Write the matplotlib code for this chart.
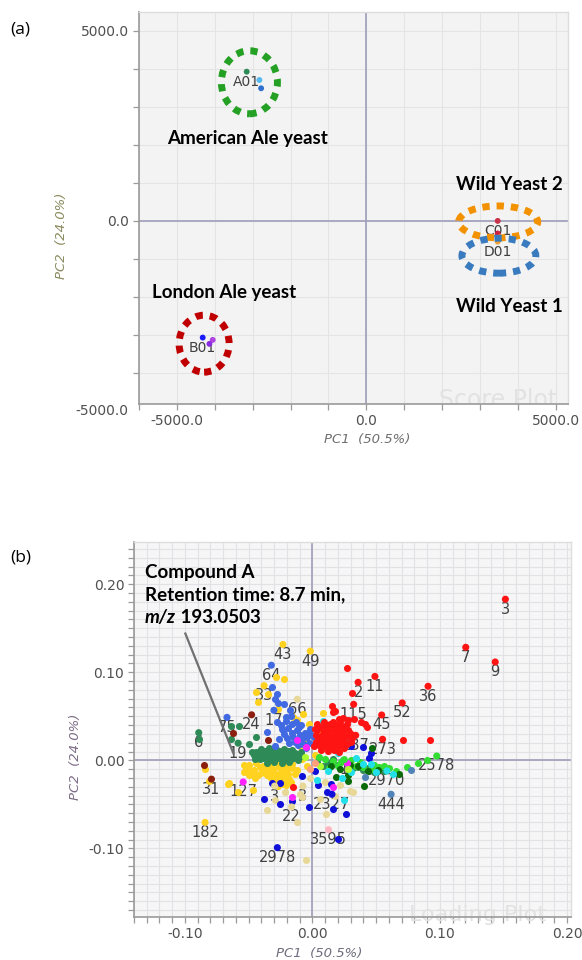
import matplotlib
matplotlib.use("Agg")
import matplotlib.pyplot as plt
from matplotlib.patches import Ellipse
from matplotlib.ticker import MultipleLocator, FixedLocator, FormatStrFormatter

# ---------------------------------------------------------------- data (a)
score_ids = ["A01", "", "", "B01", "", "", "C01", "", "", "D01"]
score_x = [-3158, -2823, -2778, -4319, -4055, -4142, 3465, 3465, 3509, 3465]
score_y = [3929, 3710, 3492, -3071, -3132, -3237, 0, -330, -474, -545]
score_col = ["#2e8b57", "#55b8ee", "#2f6fcf", "#1a1aff", "#b044e0", "#8a2be2",
             "#c8334a", "#d02040", "#66cc33", "#f0a030"]

group_names = ["American Ale yeast", "London Ale yeast", "Wild Yeast 2", "Wild Yeast 1"]
group_text_x = [-3132, -3747, 3773, 3773]
group_text_y = [2176, -1887, 947, -2255]
ring_x = [-3087, -4282, 3478, 3496]
ring_y = [3650, -3232, -26, -916]
ring_w = [1480, 1320, 2085, 1950]
ring_h = [1660, 1500, 840, 920]
ring_col = ["#24a024", "#c00000", "#f39200", "#3a7bbf"]

# ---------------------------------------------------------------- data (b)
lab_ids = ["3", "7", "9", "36", "52", "11", "2", "45", "115", "273", "237",
           "2578", "2970", "444", "2327", "3595", "2978", "22", "182", "31",
           "127", "3", "3", "6", "19", "75", "24", "17", "66", "33", "64",
           "43", "49", "1"]
lab_x = [0.1515, 0.1204, 0.1435, 0.0908, 0.0705, 0.0491, 0.0359, 0.0544,
         0.0324, 0.0551, 0.0340, 0.0976, 0.0585, 0.0618, 0.0154, 0.0127,
         -0.0275, -0.0163, -0.0842, -0.0792, -0.0543, -0.0296, -0.0074,
         -0.0892, -0.0583, -0.0670, -0.0477, -0.0302, -0.0118, -0.0379,
         -0.0322, -0.0231, -0.0016, 0.0251]
lab_y = [0.1830, 0.1284, 0.1117, 0.0841, 0.0652, 0.0953, 0.0886, 0.0515,
         0.0636, 0.0239, 0.0284, 0.0049, -0.0120, -0.0386, -0.0386, -0.0788,
         -0.0992, -0.0530, -0.0705, -0.0214, -0.0246, -0.0292, -0.0292,
         0.0314, 0.0195, 0.0488, 0.0517, 0.0568, 0.0693, 0.0848, 0.1080,
         0.1316, 0.1240, 0.0008]
lab_col = ["#ff1414"] * 11 + ["#33dd33", "#22e0ea", "#5083b8", "#1010d8",
           "#ffb6c1", "#1010d8", "#e8d898", "#ffd21f", "#8b2010", "#ff22ff",
           "#e8d898", "#e8d898", "#2e8b57", "#2e8b57", "#4169e1", "#8b2010",
           "#4169e1", "#e8d898", "#ffd21f", "#4169e1", "#ffd21f", "#ffd21f",
           "#33dd33"]

khaki_x = [-0.005, -0.0124, -0.036, -0.0294, -0.0215, -0.0084, 0.0296, 0.0104,
           0.006, 0.018, -0.002, 0.010, -0.010, 0.022, 0.032, 0.004, -0.004]
khaki_y = [-0.113, -0.0701, -0.0561, -0.0455, -0.036, -0.0417, -0.0348, -0.0614,
           -0.044, -0.040, -0.020, -0.025, -0.038, -0.028, -0.036, 0.002, 0.030]

gold_x = [-0.022, -0.0286, -0.0446, -0.0425, -0.0346, -0.0273, -0.015, -0.0124,
          -0.0074, 0.0083, 0.003, -0.006, -0.010, 0.005, -0.003, -0.0845,
          -0.0814, -0.0654, -0.0583, -0.0465, -0.0533, -0.0503, -0.0666,
          -0.034, -0.028, -0.022, -0.016, -0.050, -0.044,
          -0.036, -0.031, -0.026, -0.021, -0.016, -0.012, -0.052, -0.046, -0.041,
          -0.034, -0.029, -0.024, -0.019, -0.014, -0.048, -0.043,
          -0.033, -0.028, -0.023, -0.018, -0.045,
          -0.030, -0.025, -0.020, -0.027, -0.021, -0.008, -0.004, 0.002,
          -0.039, -0.033, -0.025, -0.019, -0.037, -0.031, -0.026, -0.021,
          -0.036, -0.031, -0.040, -0.023, -0.017, -0.054, -0.050]
gold_y = [0.0928, 0.0947, 0.0777, 0.0663, 0.075, 0.0587, 0.0492, 0.0455,
          0.053, 0.0538, 0.0227, 0.024, 0.016, 0.035, 0.041, -0.0095,
          -0.0235, -0.0254, -0.036, -0.0341, -0.0057, -0.0095, -0.0265,
          -0.004, -0.003, -0.005, -0.004, -0.005, -0.003,
          -0.009, -0.010, -0.008, -0.010, -0.009, -0.011, -0.009, -0.011, -0.008,
          -0.014, -0.015, -0.013, -0.015, -0.016, -0.015, -0.017,
          -0.019, -0.020, -0.018, -0.021, -0.020,
          -0.024, -0.025, -0.023, -0.029, -0.028, 0.002, -0.006, 0.006,
          -0.006, -0.007, -0.006, -0.007, -0.012, -0.012, -0.016, -0.013,
          -0.017, -0.022, -0.014, -0.027, -0.025, -0.013, -0.017]

green_x = [-0.0892, -0.0577, -0.0635, -0.0439, -0.0636, -0.050, -0.046,
           -0.040, -0.034, -0.028, -0.022, -0.016,
           -0.044, -0.038, -0.032, -0.026, -0.020, -0.014, -0.009,
           -0.043, -0.037, -0.031, -0.025, -0.019, -0.013, -0.008,
           -0.041, -0.035, -0.029, -0.023, -0.017, -0.011,
           -0.036, -0.030, -0.024, -0.018,
           -0.037, -0.031, -0.025, -0.019, -0.041, -0.035, -0.029, -0.023,
           -0.017, -0.011, -0.039, -0.033, -0.027, -0.021, -0.015, -0.047,
           -0.045,
           0.012, 0.020, 0.028, 0.036, 0.044, 0.052, 0.016, 0.024,
           0.008, 0.032, 0.040, 0.048, 0.056, 0.004]
green_y = [0.0242, 0.0386, 0.0386, 0.0265, 0.0246, 0.018, 0.006,
           0.013, 0.014, 0.012, 0.013, 0.012,
           0.009, 0.008, 0.009, 0.008, 0.009, 0.008, 0.009,
           0.005, 0.004, 0.005, 0.004, 0.005, 0.004, 0.005,
           0.001, 0.000, 0.001, 0.000, 0.001, 0.000,
           -0.003, -0.002, -0.003, -0.002,
           0.011, 0.012, 0.011, 0.011, 0.007, 0.006, 0.007, 0.006,
           0.007, 0.006, 0.003, 0.002, 0.003, 0.002, 0.003, 0.010,
           0.002,
           -0.003, -0.005, -0.004, -0.008, -0.009, -0.010, 0.002, 0.000,
           -0.007, -0.009, -0.011, -0.013, -0.012, -0.002]

royal_x = [-0.0313, -0.0294, -0.0273, -0.0281, -0.0222, -0.0207, -0.0176,
           -0.0163, -0.0104, -0.036, -0.0242, -0.0015,
           -0.025, -0.019, -0.012, -0.006, -0.022, -0.015, -0.008, -0.003,
           -0.018, -0.011, -0.005, -0.026, -0.029, -0.002, -0.009, 0.001,
           -0.013, -0.020,
           -0.016, -0.010, -0.023, -0.014, -0.007, -0.004, -0.021, -0.017,
           -0.028]
royal_y = [0.0833, 0.0701, 0.0651, 0.0758, 0.0644, 0.0492, 0.0568,
           0.0417, 0.0379, 0.0322, 0.036, 0.0303,
           0.040, 0.037, 0.034, 0.031, 0.030, 0.027, 0.024, 0.020,
           0.020, 0.017, 0.014, 0.024, 0.016, 0.036, 0.040, 0.026,
           0.044, 0.025,
           0.031, 0.029, 0.035, 0.021, 0.019, 0.026, 0.045, 0.050,
           0.044]

blue_x = [0.0198, -0.0378, -0.032, -0.0254, -0.0254, -0.0157, -0.0026, 0.0113,
          0.0144, 0.0047, 0.0444, 0.040, 0.0266, 0.0163, -0.008, 0.002, 0.030,
          0.046]
blue_y = [-0.089, -0.0436, -0.0254, -0.0254, -0.0492, -0.0462, -0.053, -0.036,
          -0.0265, -0.0284, 0.003, 0.0152, -0.0606, -0.0557, -0.018, -0.012,
          0.016, 0.008]

lime_x = [0.0902, 0.0459, 0.040, 0.034, 0.0222, 0.016, 0.010, 0.028, 0.052,
          0.005, 0.030, 0.037,
          0.060, 0.066, 0.074, 0.083, 0.056, 0.048, 0.020, 0.013]
lime_y = [0.0008, -0.0095, -0.0076, -0.006, -0.002, -0.001, 0.001, -0.004,
          -0.008, 0.004, 0.000, -0.002,
          -0.009, -0.012, -0.008, -0.003, -0.006, -0.005, -0.007, -0.009]

dkgreen_x = [0.0467, 0.068, 0.0408, 0.0296, 0.028, 0.0186, 0.0518, 0.036,
             0.022, 0.015, 0.044, 0.028]
dkgreen_y = [0.014, -0.0152, -0.0292, -0.0049, -0.017, -0.019, -0.0114, -0.006,
             -0.010, -0.006, -0.012, -0.024]

cyan_x = [0.034, 0.0251, 0.023, 0.012, 0.040, 0.020, 0.004, 0.046, 0.008,
          0.050, 0.063, 0.030]
cyan_y = [0.003, -0.0455, -0.020, -0.012, -0.004, 0.008, -0.022, -0.004, 0.045,
          -0.013, -0.016, -0.013]

magenta_x = [-0.0124, -0.0163, 0.0163, 0.027, -0.005]
magenta_y = [0.0227, -0.0417, -0.0303, -0.003, 0.015]

steel_x = [0.0775, 0.0414]
steel_y = [-0.0114, -0.019]

brown_x = [-0.085, -0.0622, -0.0346]
brown_y = [-0.0053, 0.0311, 0.0227]

yelgreen_x = [0.028, 0.006, -0.006]
yelgreen_y = [-0.010, -0.006, 0.004]

salmon_x = [0.002, -0.002]
salmon_y = [-0.003, -0.010]

red_x = [0.0272, 0.031, 0.0152, 0.0165, 0.0415, 0.0428, 0.0283, 0.0323,
         0.0244, 0.0711, 0.0927, 0.0178, 0.021, 0.038, -0.015,
         0.006, 0.011, 0.017, 0.023,
         0.004, 0.009, 0.014, 0.019, 0.025, 0.029,
         0.003, 0.008, 0.013, 0.018, 0.023, 0.028, 0.031,
         0.005, 0.010, 0.015, 0.020, 0.025, 0.030,
         0.003, 0.008, 0.013, 0.018, 0.023, 0.027,
         0.005, 0.010, 0.015, 0.020, 0.025,
         0.007, 0.012, 0.017, 0.021,
         0.009, 0.016, 0.022, 0.027,
         0.002, 0.012, 0.021, 0.016, 0.026, 0.006, 0.011, 0.021, 0.007,
         0.017, 0.028, 0.001, 0.013, 0.024, 0.030, 0.004, 0.020, 0.014]
red_y = [0.1045, 0.0769, 0.0621, 0.0549, 0.0417, 0.0379, 0.0455, 0.0473,
         0.0485, 0.0227, 0.0227, 0.056, 0.047, 0.044, -0.0303,
         0.038, 0.039, 0.037, 0.038,
         0.034, 0.033, 0.035, 0.033, 0.034, 0.032,
         0.029, 0.030, 0.028, 0.030, 0.029, 0.028, 0.025,
         0.025, 0.026, 0.024, 0.026, 0.024, 0.021,
         0.021, 0.021, 0.020, 0.022, 0.020, 0.018,
         0.017, 0.016, 0.017, 0.016, 0.014,
         0.012, 0.011, 0.012, 0.010,
         0.044, 0.043, 0.042, 0.041,
         0.036, 0.031, 0.031, 0.027, 0.027, 0.027, 0.023, 0.023, 0.019,
         0.019, 0.035, 0.016, 0.014, 0.017, 0.030, 0.041, 0.040, 0.041]

# ---------------------------------------------------------------- figure
W, H = 582, 960
fig = plt.figure(figsize=(W / 100, H / 100), dpi=100)
fig.patch.set_facecolor("white")

BOLD = dict(family=["Lato", "DejaVu Sans"], weight="bold", color="black")
TICKFONT = 10


def style_axes(ax, face, gridcol):
    ax.set_facecolor(face)
    for s in ("left", "bottom"):
        ax.spines[s].set_color("#9a9a9a")
        ax.spines[s].set_linewidth(1.2)
    for s in ("top", "right"):
        ax.spines[s].set_color("#dddddd")
        ax.spines[s].set_linewidth(1.0)
    ax.tick_params(which="both", direction="out", length=4, width=0.9,
                   color="#9a9a9a", labelcolor="#505050", labelsize=TICKFONT,
                   pad=3)
    ax.grid(True, which="both", color=gridcol, lw=0.8, zorder=0)
    ax.set_axisbelow(True)


# ---------------- (a) score plot
axA = fig.add_axes([139 / W, 1 - 404 / H, 429 / W, 392 / H])
style_axes(axA, "#f3f3f3", "#e4e4e4")
axA.set_xlim(-6000, 5320)
axA.set_ylim(-4820, 5500)
axA.xaxis.set_major_locator(FixedLocator([-5000, 0, 5000]))
axA.yaxis.set_major_locator(FixedLocator([-5000, 0, 5000]))
axA.xaxis.set_minor_locator(MultipleLocator(1000))
axA.yaxis.set_minor_locator(MultipleLocator(1000))
axA.xaxis.set_major_formatter(FormatStrFormatter("%.1f"))
axA.yaxis.set_major_formatter(FormatStrFormatter("%.1f"))
axA.text(-0.025, -0.018, "-5000.0", transform=axA.transAxes, ha="right",
         va="center", fontsize=TICKFONT, color="#505050")
axA.axhline(0, color="#a3a3bd", lw=1.3, zorder=1)
axA.axvline(0, color="#a3a3bd", lw=1.3, zorder=1)

for sid, x, y in zip(score_ids, score_x, score_y):
    if sid:
        axA.annotate(sid, (x, y), xytext=(0, -10), textcoords="offset pixels",
                     ha="center", va="center", fontsize=10, color="#404040",
                     zorder=2)
axA.scatter(score_x, score_y, s=18, c=score_col, linewidths=0, zorder=3)

for cx, cy, w, h, col in zip(ring_x, ring_y, ring_w, ring_h, ring_col):
    axA.add_patch(Ellipse((cx, cy), w, h, fill=False, edgecolor=col, lw=5.0,
                          linestyle=(0, (1.05, 1.0)), zorder=4))
for name, x, y in zip(group_names, group_text_x, group_text_y):
    axA.text(x, y, name, ha="center", va="center", fontsize=13.5, zorder=5,
             **BOLD)

axA.text(0.837, 0.01, "Score Plot", transform=axA.transAxes, ha="center",
         va="center", fontsize=17, color="#e2e2e2", zorder=1, clip_on=True)
fig.text(367 / W, 1 - 440 / H, "PC1  (50.5%)", ha="center", va="center",
         fontsize=9.5, style="italic", color="#6e6e6e")
fig.text(62 / W, 1 - 236 / H, "PC2  (24.0%)", ha="center", va="center",
         rotation=90, fontsize=9.5, style="italic", color="#8a8a5e")
fig.text(10 / W, 1 - 30 / H, "(a)", ha="left", va="center", fontsize=12.5,
         family=["Open Sans", "DejaVu Sans"], color="black")

# ---------------- (b) loading plot
axB = fig.add_axes([134 / W, 1 - 917 / H, 437 / W, 375 / H])
style_axes(axB, "#f6f6f6", "#e2e2e6")
axB.set_xlim(-0.140, 0.203)
axB.set_ylim(-0.178, 0.248)
axB.xaxis.set_major_locator(FixedLocator([-0.1, 0.0, 0.1, 0.2]))
axB.yaxis.set_major_locator(FixedLocator([-0.1, 0.0, 0.1, 0.2]))
axB.xaxis.set_minor_locator(MultipleLocator(0.01))
axB.yaxis.set_minor_locator(MultipleLocator(0.01))
axB.xaxis.set_major_formatter(FormatStrFormatter("%.2f"))
axB.yaxis.set_major_formatter(FormatStrFormatter("%.2f"))
axB.axhline(0, color="#a3a3bd", lw=1.3, zorder=1)
axB.axvline(0, color="#a3a3bd", lw=1.3, zorder=1)

for t, x, y in zip(lab_ids, lab_x, lab_y):
    axB.annotate(t, (x, y), xytext=(0, -10), textcoords="offset pixels",
                 ha="center", va="center", fontsize=10.5, color="#404040",
                 zorder=2)

S = 26
layers = [
    (khaki_x, khaki_y, "#e8d898"),
    (gold_x, gold_y, "#ffd21f"),
    (green_x, green_y, "#2e8b57"),
    (royal_x, royal_y, "#4169e1"),
    (blue_x, blue_y, "#1010d8"),
    (lime_x, lime_y, "#33dd33"),
    (dkgreen_x, dkgreen_y, "#0b6b0b"),
    (cyan_x, cyan_y, "#22e0ea"),
    (magenta_x, magenta_y, "#ff22ff"),
    (steel_x, steel_y, "#5083b8"),
    (brown_x, brown_y, "#8b2010"),
    (yelgreen_x, yelgreen_y, "#adff2f"),
    (salmon_x, salmon_y, "#ffa07a"),
    (red_x, red_y, "#ff1414"),
]
for xs, ys, col in layers:
    axB.scatter(xs, ys, s=S, c=col, linewidths=0, zorder=3)
axB.scatter(lab_x, lab_y, s=S, c=lab_col, linewidths=0, zorder=3)

axB.plot([-0.0997, -0.062], [0.144, 0.008], color="#707070", lw=1.6, zorder=4)
axB.text(-0.1315, 0.2133, "Compound A", ha="left", va="center", fontsize=13.5,
         zorder=5, **BOLD)
axB.text(-0.1315, 0.1886, "Retention time: 8.7 min,", ha="left", va="center",
         fontsize=13.5, zorder=5, **BOLD)
mz = axB.text(-0.1315, 0.1622, "m/z", ha="left", va="center", fontsize=13.5,
              style="italic", zorder=5, **BOLD)
axB.annotate(" 193.0503", xy=(1, 0), xycoords=mz, ha="left", va="bottom",
             fontsize=13.5, zorder=5, **BOLD)

axB.text(0.787, 0.005, "Loading Plot", transform=axB.transAxes, ha="center",
         va="center", fontsize=16, color="#e2e2e2", zorder=1, clip_on=False)
fig.text(319 / W, 1 - 953 / H, "PC1  (50.5%)", ha="center", va="center",
         fontsize=9.5, style="italic", color="#6e6e7e")
fig.text(76 / W, 1 - 757 / H, "PC2  (24.0%)", ha="center", va="center",
         rotation=90, fontsize=9.5, style="italic", color="#7c6c86")
fig.text(10 / W, 1 - 557 / H, "(b)", ha="left", va="center", fontsize=12.5,
         family=["Open Sans", "DejaVu Sans"], color="black")

fig.savefig("out.png", dpi=100)
